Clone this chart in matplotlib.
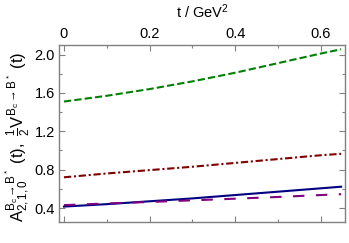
import matplotlib
matplotlib.use('Agg')
import matplotlib.pyplot as plt
from matplotlib.ticker import MultipleLocator

plt.rcParams['font.family'] = ['Liberation Sans', 'DejaVu Sans']
plt.rcParams['mathtext.fontset'] = 'custom'
plt.rcParams['mathtext.rm'] = 'Liberation Sans'
plt.rcParams['mathtext.it'] = 'Liberation Sans'
plt.rcParams['mathtext.bf'] = 'Liberation Sans:bold'

# t in GeV^2
t = [0.0, 0.1, 0.2, 0.3, 0.4, 0.5, 0.6, 0.648]
# half V
v_half = [1.51, 1.57, 1.64, 1.72, 1.81, 1.91, 2.01, 2.055]
# A0
a0 = [0.72, 0.76, 0.795, 0.83, 0.87, 0.91, 0.95, 0.965]
# A1
a1 = [0.415, 0.44, 0.47, 0.50, 0.535, 0.57, 0.605, 0.622]
# A2
a2 = [0.43, 0.447, 0.463, 0.48, 0.497, 0.515, 0.535, 0.544]

fig = plt.figure(figsize=(3.49, 2.43), dpi=100)
ax = fig.add_axes([0.169, 0.0864, 0.8195, 0.7286])

ax.plot(t, v_half, color='#008000', lw=1.5, linestyle=(0, (3.5, 1.5)))
ax.plot(t, a0, color='#800000', lw=1.5, linestyle=(0, (3.5, 1.3, 1.0, 1.3)))
ax.plot(t, a1, color='#000080', lw=1.5, linestyle='-')
ax.plot(t, a2, color='#800080', lw=1.5, linestyle=(0, (5.5, 5.5)))

ax.set_xlim(-0.0117, 0.657)
ax.set_ylim(0.254, 2.10)

ax.xaxis.set_major_locator(MultipleLocator(0.2))
ax.xaxis.set_minor_locator(MultipleLocator(0.1))
ax.yaxis.set_major_locator(MultipleLocator(0.4))
ax.yaxis.set_minor_locator(MultipleLocator(0.2))
ax.set_xticks([0, 0.2, 0.4, 0.6], ['0', '0.2', '0.4', '0.6'])
ax.set_yticks([0.4, 0.8, 1.2, 1.6, 2.0], ['0.4', '0.8', '1.2', '1.6', '2.0'])

ax.tick_params(which='both', direction='in', top=True, right=True,
               bottom=True, left=True, labeltop=True, labelbottom=False,
               color='#808080', labelsize=10.5, pad=3)
ax.tick_params(which='major', length=4, width=0.8)
ax.tick_params(which='minor', length=2.5, width=0.8)
for s in ax.spines.values():
    s.set_color('#808080')
    s.set_linewidth(1.0)

ax.xaxis.set_label_position('top')
ax.set_xlabel(r't / GeV$^2$', fontsize=10.5, labelpad=6)
ax.set_ylabel(r'$\mathrm{A}_{2,1,0}^{B_c\to B^*}\ (\mathrm{t}),\ \frac{1}{2}\mathrm{V}^{B_c\to B^*}\ (\mathrm{t})$',
              fontsize=12)
ax.yaxis.set_label_coords(-0.095, 0.48)

fig.savefig('out.png', dpi=100)
